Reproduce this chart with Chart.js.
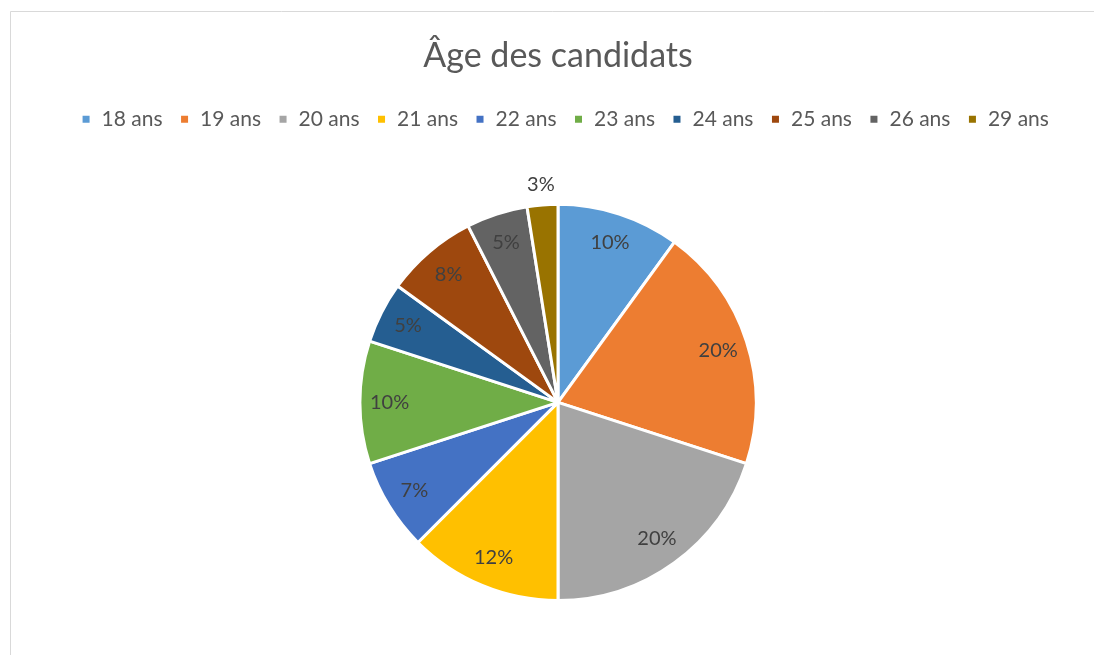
<!DOCTYPE html>
<html>
<head>
<meta charset="utf-8">
<script src="https://cdn.jsdelivr.net/npm/chart.js@4/dist/chart.umd.min.js"></script>
<style>
  html, body { margin: 0; padding: 0; background: #ffffff; }
  #wrap { position: relative; width: 1094px; height: 655px; }
</style>
</head>
<body>
<div id="wrap"><canvas id="c" width="1094" height="655"></canvas></div>
<script>
const chartTitle = "Âge des candidats";
const categories = ["18 ans", "19 ans", "20 ans", "21 ans", "22 ans", "23 ans", "24 ans", "25 ans", "26 ans", "29 ans"];
const shares = [10, 20, 20, 12.5, 7.5, 10, 5, 7.5, 5, 2.5];
const shareLabels = ["10%", "20%", "20%", "12%", "7%", "10%", "5%", "8%", "5%", "3%"];
const sliceColors = ["#5B9BD5", "#ED7D31", "#A5A5A5", "#FFC000", "#4472C4", "#70AD47", "#255E91", "#9E480E", "#636363", "#997300"];
const outsideLabel = [false, false, false, false, false, false, false, false, false, true];

const FONT = "Lato, 'Open Sans', sans-serif";

const framePlugin = {
  id: 'frame',
  beforeDraw(chart) {
    const ctx = chart.ctx;
    ctx.save();
    ctx.fillStyle = '#ffffff';
    ctx.fillRect(0, 0, chart.width, chart.height);
    ctx.strokeStyle = '#d9d9d9';
    ctx.lineWidth = 1;
    ctx.beginPath();
    ctx.moveTo(10.5, chart.height);
    ctx.lineTo(10.5, 11.5);
    ctx.lineTo(chart.width, 11.5);
    ctx.stroke();
    ctx.restore();
  }
};

const legendSpacing = {
  id: 'legendSpacing',
  beforeInit(chart) {
    const legend = chart.legend;
    if (!legend) return;
    const origFit = legend.fit;
    legend.fit = function () {
      origFit.call(this);
      this.height += 63;
    };
  },
  afterLayout(chart) {
    if (chart.legend) {
      chart.legend.left += 7;
      chart.legend.right += 7;
    }
  }
};

const labelPlugin = {
  id: 'sliceLabels',
  afterDatasetsDraw(chart) {
    const ctx = chart.ctx;
    const meta = chart.getDatasetMeta(0);
    ctx.save();
    ctx.font = "20px " + FONT;
    ctx.fillStyle = '#404040';
    ctx.textAlign = 'center';
    ctx.textBaseline = 'middle';
    meta.data.forEach((arc, i) => {
      const p = arc.getProps(['x', 'y', 'startAngle', 'endAngle', 'outerRadius'], true);
      const mid = (p.startAngle + p.endAngle) / 2;
      const r = outsideLabel[i] ? p.outerRadius + 20 : p.outerRadius * 0.85;
      ctx.fillText(shareLabels[i], p.x + Math.cos(mid) * r, p.y + Math.sin(mid) * r);
    });
    ctx.restore();
  }
};

new Chart(document.getElementById('c'), {
  type: 'pie',
  data: {
    labels: categories,
    datasets: [{
      data: shares,
      backgroundColor: sliceColors,
      borderColor: '#ffffff',
      borderWidth: 3
    }]
  },
  options: {
    responsive: false,
    animation: false,
    layout: { padding: { left: 22, right: 0, top: 0, bottom: 53 } },
    plugins: {
      title: {
        display: true,
        text: chartTitle,
        color: '#595959',
        font: { family: FONT, size: 34, weight: 'normal' },
        padding: { top: 36, bottom: 15 }
      },
      legend: {
        display: true,
        position: 'top',
        labels: {
          color: '#595959',
          font: { family: FONT, size: 21 },
          boxWidth: 10,
          boxHeight: 10,
          padding: 17
        }
      },
      tooltip: { enabled: false }
    }
  },
  plugins: [framePlugin, legendSpacing, labelPlugin]
});
</script>
</body>
</html>
